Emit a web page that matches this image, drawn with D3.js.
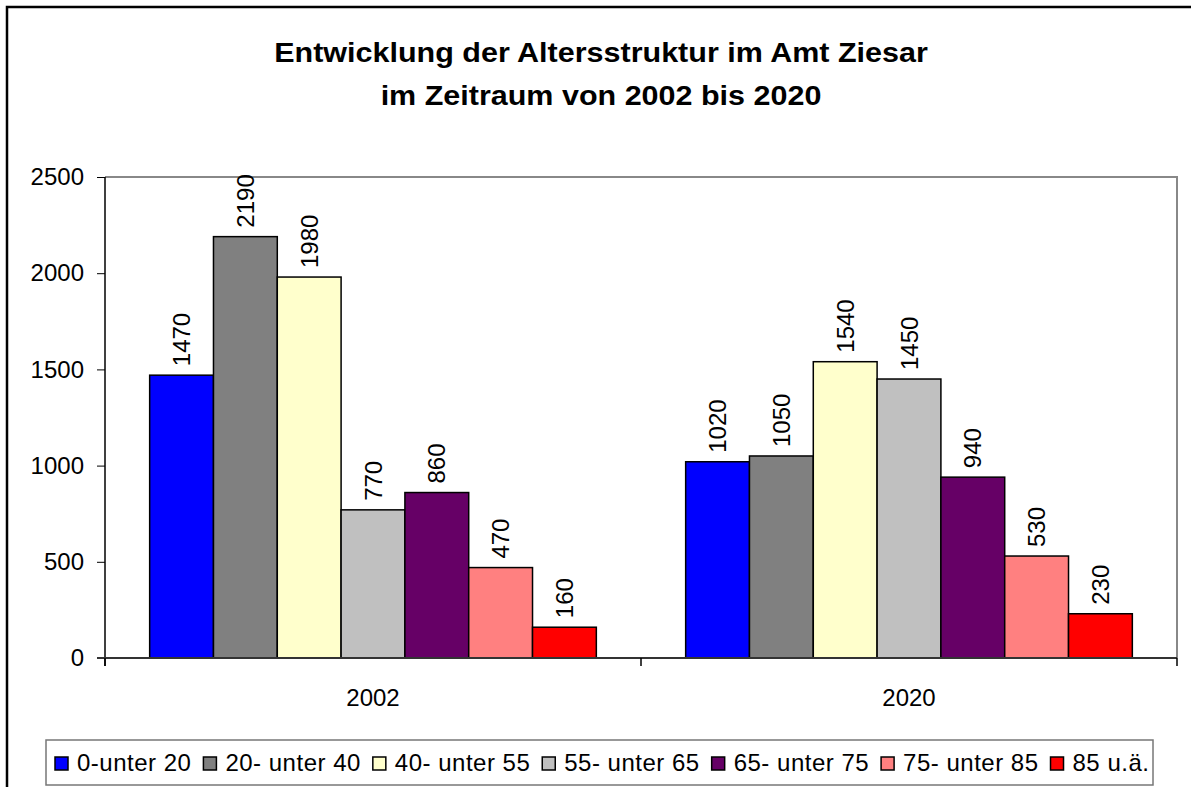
<!DOCTYPE html>
<html>
<head>
<meta charset="utf-8">
<script src="https://cdn.jsdelivr.net/npm/d3@7"></script>
<style>
  body { margin: 0; background: #fff; }
  svg { display: block; font-family: "Liberation Sans", Arial, sans-serif; }
</style>
</head>
<body>
<div id="chart"></div>
<script>
// data
const years = ['2002', '2020']
const groups = ['0-unter 20', '20- unter 40', '40- unter 55', '55- unter 65', '65- unter 75', '75- unter 85', '85 u.ä.']
const colors = ['#0000ff', '#808080', '#ffffcc', '#c0c0c0', '#660066', '#ff8080', '#ff0000']
const values2002 = [1470, 2190, 1980, 770, 860, 470, 160]
const values2020 = [1020, 1050, 1540, 1450, 940, 530, 230]
const yTicks = [0, 500, 1000, 1500, 2000, 2500]
const titleLines = ['Entwicklung der Altersstruktur im Amt Ziesar', 'im Zeitraum von 2002 bis 2020']

const W = 1191
const H = 787
const margin = { top: 177, right: 14, bottom: 129, left: 105 }
const plotW = W - margin.left - margin.right
const plotH = H - margin.top - margin.bottom

const svg = d3.select('#chart').append('svg')
  .attr('width', W)
  .attr('height', H)

// outer chart frame (runs off the right and bottom edge)
svg.append('rect')
  .attr('x', 7).attr('y', 7)
  .attr('width', W + 20).attr('height', H + 20)
  .attr('fill', 'none')
  .attr('stroke', '#000')
  .attr('stroke-width', 2.5)

// title, glyphs a bit stretched like the original
const title = svg.append('g')
titleLines.forEach((t, i) => {
  title.append('text')
    .attr('transform', 'translate(601,' + (62 + i * 43) + ') scale(1.13,1)')
    .attr('text-anchor', 'middle')
    .attr('font-size', 27)
    .attr('font-weight', 'bold')
    .text(t)
})

const g = svg.append('g')
  .attr('transform', 'translate(' + margin.left + ',' + margin.top + ')')

const y = d3.scaleLinear().domain([0, 2500]).range([plotH, 0])
const x0 = d3.scaleBand().domain(years).range([0, plotW])
const x1 = d3.scaleBand().domain(groups).range([0, x0.bandwidth()]).paddingOuter(0.7)

// plot frame top / right
g.append('path')
  .attr('d', 'M0,0H' + plotW + 'V' + plotH)
  .attr('fill', 'none')
  .attr('stroke', '#888')
  .attr('stroke-width', 2)

const rows = years.map((yr, i) => ({ year: yr, values: i === 0 ? values2002 : values2020 }))

const grp = g.selectAll('.grp')
  .data(rows)
  .enter().append('g')
  .attr('transform', d => 'translate(' + x0(d.year) + ',0)')

grp.selectAll('rect')
  .data(d => d.values.map((v, i) => ({ key: groups[i], value: v, color: colors[i] })))
  .enter().append('rect')
  .attr('x', d => x1(d.key))
  .attr('y', d => y(d.value))
  .attr('width', x1.bandwidth())
  .attr('height', d => plotH - y(d.value))
  .attr('fill', d => d.color)
  .attr('stroke', '#000')
  .attr('stroke-width', 1.5)

grp.selectAll('.lbl')
  .data(d => d.values.map((v, i) => ({ key: groups[i], value: v })))
  .enter().append('text')
  .attr('class', 'lbl')
  .attr('transform', d => 'translate(' + (x1(d.key) + x1.bandwidth() / 2) + ',' + (y(d.value) - 9) + ') rotate(-90)')
  .attr('dy', '0.36em')
  .attr('font-size', 24)
  .text(d => d.value)

// y axis
const yAxis = g.append('g')
  .call(d3.axisLeft(y).tickValues(yTicks).tickFormat(d3.format('d')).tickSize(8).tickSizeOuter(0))
yAxis.select('.domain').attr('stroke', '#000').attr('stroke-width', 1.5)
  .attr('d', 'M0,' + (plotH + 8) + 'V0')
yAxis.selectAll('.tick line').attr('stroke', '#000')
yAxis.selectAll('.tick text')
  .attr('font-size', 24)
  .attr('font-family', '"Liberation Sans", Arial, sans-serif')
  .attr('fill', '#000')
  .attr('x', -21)

// x axis
g.append('line')
  .attr('x1', -8).attr('x2', plotW)
  .attr('y1', plotH).attr('y2', plotH)
  .attr('stroke', '#333').attr('stroke-width', 2)
g.selectAll('.xtick')
  .data(years.map(d => x0(d)).concat([plotW]))
  .enter().append('line')
  .attr('x1', d => d).attr('x2', d => d)
  .attr('y1', plotH).attr('y2', plotH + 8)
  .attr('stroke', '#000').attr('stroke-width', 1.5)
g.selectAll('.xlbl')
  .data(years)
  .enter().append('text')
  .attr('x', d => x0(d) + x0.bandwidth() / 2)
  .attr('y', plotH + 48)
  .attr('text-anchor', 'middle')
  .attr('font-size', 24)
  .text(d => d)

// legend
const legend = svg.append('g')
legend.append('rect')
  .attr('x', 46).attr('y', 740)
  .attr('width', 1107).attr('height', 45)
  .attr('fill', '#fff')
  .attr('stroke', '#777')
  .attr('stroke-width', 1.5)
let lx = 55
groups.forEach((name, i) => {
  legend.append('rect')
    .attr('x', lx).attr('y', 757)
    .attr('width', 13).attr('height', 13)
    .attr('fill', colors[i])
    .attr('stroke', '#000')
    .attr('stroke-width', 1.5)
  const t = legend.append('text')
    .attr('x', lx + 22).attr('y', 771)
    .attr('font-size', 24)
    .attr('letter-spacing', 0.5)
    .text(name)
  lx += 22 + t.node().getComputedTextLength() + 12
})
</script>
</body>
</html>
